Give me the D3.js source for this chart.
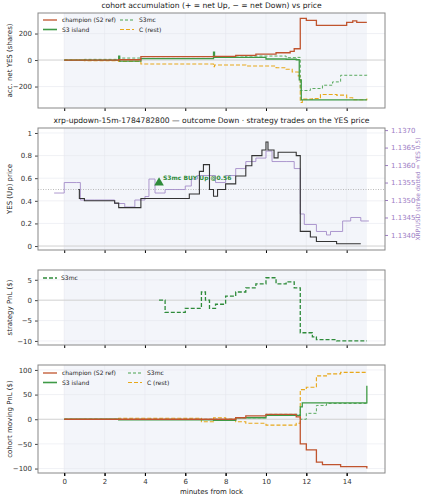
<!doctype html>
<meta charset="utf-8">
<script src="https://cdn.jsdelivr.net/npm/d3@7"></script>
<style>
body{margin:0;background:#fff;font-family:"DejaVu Sans",sans-serif}
text{font-family:"DejaVu Sans",sans-serif}
</style>
<body>
<svg id="c" width="427" height="500"></svg>
<script>
// accumulation (shares)  [minute, value]
var accChampion = [[0,0],[2.7,2],[3.8,25],[7.4,28],[8.5,35],[9.5,45],[10.5,55],[11.2,65],[11.4,85],[11.7,315],[12,300],[12.5,262],[13.5,262],[14,285],[14.3,295],[14.5,285],[15,285]];
var accIsland = [[0,0],[2.7,30],[2.75,-8],[3.8,10],[7.4,60],[7.45,20],[10,8],[11,6],[11.5,2],[11.65,-150],[11.75,-300],[15,-300]];
var accS3mc = [[0,0],[1,5],[2.7,15],[3.8,12],[7.4,22],[9,30],[11,18],[11.5,20],[11.7,-230],[12.2,-215],[12.8,-190],[13.3,-165],[13.7,-115],[15,-105]];
var accRest = [[0,0],[1,-5],[2.7,-10],[3.8,-30],[7.4,-50],[7.45,-38],[9,-45],[10.5,-58],[11,-70],[11.3,-90],[11.6,-120],[11.7,-320],[11.8,-295],[12.3,-290],[12.7,-260],[13.5,-265],[14,-285],[14.3,-300],[15,-290]];

// YES price and XRP/USD
var yesPrice = [[0.7,0.5],[0.75,0.42],[1,0.4],[2.5,0.38],[2.7,0.34],[3.3,0.34],[3.8,0.42],[6.2,0.46],[6.7,0.66],[6.9,0.72],[7.2,0.5],[7.4,0.44],[7.6,0.5],[8,0.55],[8.5,0.62],[9,0.71],[9.3,0.8],[9.8,0.85],[10,0.92],[10.1,0.85],[10.4,0.78],[10.6,0.83],[11.5,0.8],[11.7,0.13],[12.2,0.08],[12.5,0.04],[13.5,0.02],[14.7,0.02]];
var xrpUsd = [[-0.5,1.1352],[0,1.1355],[0.6,1.1355],[0.8,1.1350],[1.5,1.1350],[2.5,1.1349],[3.0,1.1348],[3.5,1.1350],[4.0,1.1351],[4.2,1.1356],[4.5,1.1352],[5.0,1.1353],[5.5,1.1353],[6.0,1.1354],[6.3,1.1356],[6.6,1.1357],[7.2,1.1357],[7.5,1.1355],[8,1.1357],[8.5,1.1359],[9,1.1361],[9.5,1.1362],[10,1.1364],[10.3,1.1361],[11,1.1361],[11.4,1.1359],[11.7,1.1346],[11.9,1.1343],[12.5,1.1341],[13,1.1340],[13.2,1.1341],[13.8,1.1344],[14.2,1.1345],[14.7,1.1344],[15.1,1.1344]];
var buyMarker = {t:4.7, p:0.56, label:"S3mc BUY Up @0.56"};

// strategy PnL
var stratPnl = [[4.7,0],[5,-3],[6,-2],[6.8,2],[7,0],[7.2,-2],[7.5,-1],[8,1],[8.5,2],[9,3],[9.5,4],[10,5.5],[10.5,4],[11,4.5],[11.4,3],[11.7,-8],[12.3,-9],[12.5,-9.7],[13.5,-10],[15,-10]];

// cohort moving PnL
var pnlChampion = [[0,0],[8.5,3],[9,7],[10,10],[11.5,5],[11.7,-50],[12,-62],[12.5,-87],[12.8,-92],[13.7,-96],[15,-100]];
var pnlIsland = [[0,0],[2.7,-1],[7.4,-2],[8.5,3],[10,8],[11.5,8],[11.7,25],[11.8,33],[15,33],[15,68]];
var pnlS3mc = [[0,0],[8.5,3],[10,10],[11.5,10],[11.7,0],[12,12],[12.5,28],[13,32],[15,33]];
var pnlRest = [[0,0],[2.7,2],[6.8,-5],[7.4,3],[8,0],[8.5,-5],[9,-8],[10,-12],[11.5,-8],[11.7,60],[12,65],[12.5,88],[13,92],[13.7,95],[15,97]];

var cols = {champ:"#c0542e", island:"#3f9a46", s3mc:"#48a24e", rest:"#e8a81a"};
var svg = d3.select("#c");
var L = 38, R = 385;
var x = d3.scaleLinear().domain([-1.3, 15.9]).range([L, R]);
var xTicks = [0,2,4,6,8,10,12,14];

function panel(top, bot, dom, ticks, ylabel, title) {
  var y = d3.scaleLinear().domain(dom).range([bot, top]);
  var g = svg.append("g");
  g.append("rect").attr("x",x(0)).attr("y",top).attr("width",x(15)-x(0)).attr("height",bot-top).attr("fill","#f3f5fa");
  xTicks.forEach(function(t){ g.append("line").attr("x1",x(t)).attr("x2",x(t)).attr("y1",top).attr("y2",bot).attr("stroke","#e6e8ee").attr("stroke-width",0.6); });
  ticks.forEach(function(t){ g.append("line").attr("x1",L).attr("x2",R).attr("y1",y(t)).attr("y2",y(t)).attr("stroke", t===0?"#d0d0d0":"#e6e8ee").attr("stroke-width",t===0?1:0.6); });
  var ya = g.append("g").attr("transform","translate("+L+",0)").call(d3.axisLeft(y).tickValues(ticks).tickSize(3).tickFormat(function(d){return String(d).replace("-","\u2212");}));
  ya.select(".domain").remove();
  ya.selectAll("text").attr("font-size",7).attr("fill","#333");
  ya.selectAll("line").attr("stroke","#444");
  var xa = g.append("g").attr("transform","translate(0,"+bot+")").call(d3.axisBottom(x).tickValues(xTicks).tickSize(3).tickFormat(""));
  xa.select(".domain").remove();
  g.append("text").attr("transform","translate(12,"+((top+bot)/2)+") rotate(-90)").attr("text-anchor","middle").attr("font-size",7).attr("fill","#222").text(ylabel);
  if (title) g.append("text").attr("x",(L+R)/2).attr("y",top-5).attr("text-anchor","middle").attr("font-size",7.6).attr("fill","#222").text(title);
  return {g:g, y:y, top:top, bot:bot};
}
function frame(p){ p.g.append("rect").attr("x",L).attr("y",p.top).attr("width",R-L).attr("height",p.bot-p.top).attr("fill","none").attr("stroke","#888").attr("stroke-width",1); }
function stepLine(p, data, color, w, dash, yy) {
  var ys = yy || p.y;
  p.g.append("path").datum(data).attr("fill","none").attr("stroke",color).attr("stroke-width",w).attr("stroke-dasharray",dash||null)
    .attr("d", d3.line().curve(d3.curveStepAfter).x(function(d){return x(d[0]);}).y(function(d){return ys(d[1]);}));
}
function legend(p, items, x0, y0, colW) {
  items.forEach(function(it,i){
    var lx = x0 + Math.floor(i/2)*colW, ly = y0 + (i%2)*9.5;
    p.g.append("line").attr("x1",lx).attr("x2",lx+14).attr("y1",ly).attr("y2",ly).attr("stroke",it.c).attr("stroke-width",it.w).attr("stroke-dasharray",it.d||null);
    p.g.append("text").attr("x",lx+19).attr("y",ly+2.3).attr("font-size",6).attr("fill","#222").text(it.n);
  });
}
var legItems = [{n:"champion (S2 ref)",c:cols.champ,w:1.3},{n:"S3 island",c:cols.island,w:1.6},{n:"S3mc",c:cols.s3mc,w:1,d:"3,2"},{n:"C (rest)",c:cols.rest,w:1.1,d:"4,2"}];

// panel 1
var p1 = panel(13, 108, [-362, 355], [-200,0,200], "acc. net YES (shares)", "cohort accumulation (+ = net Up, \u2212 = net Down) vs price");
stepLine(p1, accRest, cols.rest, 1.1, "4,2");
stepLine(p1, accS3mc, cols.s3mc, 0.9, "3,2");
stepLine(p1, accIsland, cols.island, 1.3);
stepLine(p1, accChampion, cols.champ, 1.3);
legend(p1, legItems, 43, 20, 77);
frame(p1);

// panel 2
var p2 = panel(128, 250, [-0.035, 1.044], [0,0.2,0.4,0.6,0.8,1.0], "YES (Up) price", "xrp-updown-15m-1784782800 \u2014 outcome Down \u00b7 strategy trades on the YES price");
var yR = d3.scaleLinear().domain([1.13357, 1.13706]).range([250, 128]);
p2.g.append("line").attr("x1",L).attr("x2",R).attr("y1",p2.y(0.5)).attr("y2",p2.y(0.5)).attr("stroke","#aaa").attr("stroke-width",0.8).attr("stroke-dasharray","1,1.5");
stepLine(p2, xrpUsd, "#a48cc8", 0.9, null, yR);
stepLine(p2, yesPrice, "#333", 1.1);
p2.g.append("path").attr("d", d3.symbol().type(d3.symbolTriangle).size(40)).attr("transform","translate("+x(buyMarker.t)+","+p2.y(buyMarker.p)+")").attr("fill","#2e8b3a");
p2.g.append("text").attr("x",x(buyMarker.t)+4).attr("y",p2.y(buyMarker.p)-3).attr("font-size",6).attr("font-weight","bold").attr("fill","#2e8b3a").text(buyMarker.label);
var ra = p2.g.append("g").attr("transform","translate("+R+",0)").call(d3.axisRight(yR).tickValues([1.134,1.1345,1.135,1.1355,1.136,1.1365,1.137]).tickSize(3).tickFormat(d3.format(".4f")));
ra.select(".domain").remove();
ra.selectAll("text").attr("font-size",7).attr("fill","#9c7cc4");
ra.selectAll("line").attr("stroke","#9c7cc4");
p2.g.append("text").attr("transform","translate(420,189) rotate(-90)").attr("text-anchor","middle").attr("font-size",6).attr("fill","#9c7cc4").text("XRP/USD (strike dotted = YES 0.5)");
frame(p2);

// panel 3
var p3 = panel(270, 345, [-11, 7.4], [-10,-5,0,5], "strategy PnL ($)");
stepLine(p3, stratPnl, "#2e8b3a", 1.3, "4,2");
p3.g.append("line").attr("x1",43).attr("x2",57).attr("y1",278).attr("y2",278).attr("stroke","#2e8b3a").attr("stroke-width",1.3).attr("stroke-dasharray","4,2");
p3.g.append("text").attr("x",61).attr("y",280.3).attr("font-size",6).attr("fill","#222").text("S3mc");
frame(p3);

// panel 4
var p4 = panel(365, 473, [-109, 110], [-100,-50,0,50,100], "cohort moving PnL ($)");
stepLine(p4, pnlRest, cols.rest, 1.1, "4,2");
stepLine(p4, pnlS3mc, cols.s3mc, 0.9, "3,2");
stepLine(p4, pnlIsland, cols.island, 1.3);
stepLine(p4, pnlChampion, cols.champ, 1.3);
legend(p4, legItems, 43, 373, 85);
frame(p4);
var xl = svg.append("g").attr("transform","translate(0,473)").call(d3.axisBottom(x).tickValues(xTicks).tickSize(3));
xl.select(".domain").remove();
xl.selectAll("text").attr("font-size",7).attr("fill","#333");
svg.append("text").attr("x",(L+R)/2).attr("y",494).attr("text-anchor","middle").attr("font-size",7).attr("fill","#222").text("minutes from lock");
</script>
</body>
